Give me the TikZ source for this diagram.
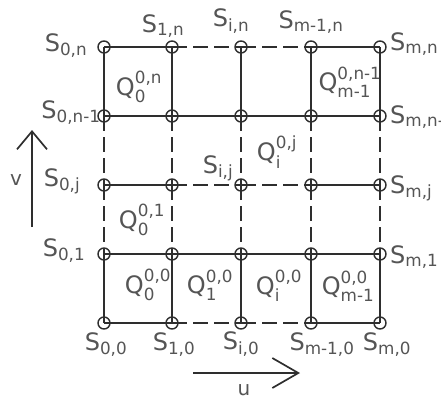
\documentclass[tikz,border=0pt]{standalone}
\usepackage{amsmath}
\usepackage{fontspec}
\setmainfont{DejaVu Sans}
\usetikzlibrary{arrows.meta}
\definecolor{ink}{HTML}{2E2E2E}
\definecolor{pencil}{HTML}{555555}
\newcommand{\Sl}[1]{$\text{S}_{\text{#1}}$}
\newcommand{\Ql}[2]{$\text{Q}^{\text{#2}}_{\text{#1}}$}
\begin{document}
\begin{tikzpicture}[x=1pt,y=-1pt,
  knot/.style={draw=ink,circle,line width=1.4pt,inner sep=0pt,minimum size=12pt},
  lbl/.style={text=pencil,font=\fontsize{24}{26}\selectfont,inner sep=0pt},
  edge/.style={draw=ink,line width=1.7pt},
  gap/.style={edge,dash pattern=on 15pt off 6pt}]
\useasboundingbox (0,0) rectangle (441,399);
% grid points, k stands for m-1 and p for n-1
\node[knot](S0n) at (104,47){};
\node[knot](S1n) at (172,47){};
\node[knot](Sin) at (241,47){};
\node[knot](Skn) at (311,47){};
\node[knot](Smn) at (380,47){};
\node[knot](S0p) at (104,116){};
\node[knot](S1p) at (172,116){};
\node[knot](Sip) at (241,116){};
\node[knot](Skp) at (311,116){};
\node[knot](Smp) at (380,116){};
\node[knot](S0j) at (104,185){};
\node[knot](S1j) at (172,185){};
\node[knot](Sij) at (241,185){};
\node[knot](Skj) at (311,185){};
\node[knot](Smj) at (380,185){};
\node[knot](S01) at (104,254){};
\node[knot](S11) at (172,254){};
\node[knot](Si1) at (241,254){};
\node[knot](Sk1) at (311,254){};
\node[knot](Sm1) at (380,254){};
\node[knot](S00) at (104,323){};
\node[knot](S10) at (172,323){};
\node[knot](Si0) at (241,323){};
\node[knot](Sk0) at (311,323){};
\node[knot](Sm0) at (380,323){};
% rows
\draw[edge] (S0n.center) -- (S1n.center);
\draw[gap] (S1n.center) -- (Sin.center);
\draw[gap] (Sin.center) -- (Skn.center);
\draw[edge] (Skn.center) -- (Smn.center);
\draw[edge] (S0p.center) -- (S1p.center) -- (Sip.center) -- (Skp.center) -- (Smp.center);
\draw[edge] (S0j.center) -- (S1j.center);
\draw[gap] (S1j.center) -- (Sij.center);
\draw[gap] (Sij.center) -- (Skj.center);
\draw[edge] (Skj.center) -- (Smj.center);
\draw[edge] (S01.center) -- (S11.center) -- (Si1.center) -- (Sk1.center) -- (Sm1.center);
\draw[edge] (S00.center) -- (S10.center);
\draw[gap] (S10.center) -- (Si0.center);
\draw[gap] (Si0.center) -- (Sk0.center);
\draw[edge] (Sk0.center) -- (Sm0.center);
% columns
\draw[edge] (S0n.center) -- (S0p.center);
\draw[gap] (S0p.center) -- (S0j.center);
\draw[gap] (S0j.center) -- (S01.center);
\draw[edge] (S01.center) -- (S00.center);
\draw[edge] (S1n.center) -- (S1p.center);
\draw[gap] (S1p.center) -- (S1j.center);
\draw[gap] (S1j.center) -- (S11.center);
\draw[edge] (S11.center) -- (S10.center);
\draw[edge] (Sin.center) -- (Sip.center);
\draw[gap] (Sip.center) -- (Sij.center);
\draw[gap] (Sij.center) -- (Si1.center);
\draw[edge] (Si1.center) -- (Si0.center);
\draw[edge] (Skn.center) -- (Skp.center);
\draw[gap] (Skp.center) -- (Skj.center);
\draw[gap] (Skj.center) -- (Sk1.center);
\draw[edge] (Sk1.center) -- (Sk0.center);
\draw[edge] (Smn.center) -- (Smp.center);
\draw[gap] (Smp.center) -- (Smj.center);
\draw[gap] (Smj.center) -- (Sm1.center);
\draw[edge] (Sm1.center) -- (Sm0.center);
% point labels
\node[lbl](lS0n) at (66,46){\Sl{0,n}};
\node[lbl](lS1n) at (163,26){\Sl{1,n}};
\node[lbl](lSin) at (231,21){\Sl{i,n}};
\node[lbl](lSkn) at (311,22){\Sl{m-1,n}};
\node[lbl,anchor=west](lSmn) at (390,44){\Sl{m,n}};
\node[lbl](lS0p) at (71,113){\Sl{0,n-1}};
\node[lbl,anchor=west](lSmp) at (390,117){\Sl{m,n-1}};
\node[lbl](lS0j) at (62,181){\Sl{0,j}};
\node[lbl](lSij) at (218,168){\Sl{i,j}};
\node[lbl,anchor=west](lSmj) at (390,188){\Sl{m,j}};
\node[lbl](lS01) at (64,251){\Sl{0,1}};
\node[lbl,anchor=west](lSm1) at (390,257){\Sl{m,1}};
\node[lbl](lS00) at (106,345){\Sl{0,0}};
\node[lbl](lS10) at (174,345){\Sl{1,0}};
\node[lbl](lSi0) at (241,344){\Sl{i,0}};
\node[lbl](lSk0) at (322,345){\Sl{m-1,0}};
\node[lbl](lSm0) at (387,345){\Sl{m,0}};
% patch labels
\node[lbl](lQ0n) at (139,87){\Ql{0}{0,n}};
\node[lbl](lQkp) at (350,82){\Ql{m-1}{0,n-1}};
\node[lbl](lQij) at (277,152){\Ql{i}{0,j}};
\node[lbl](lQ01) at (142,220){\Ql{0}{0,1}};
\node[lbl](lQ00) at (148,285){\Ql{0}{0,0}};
\node[lbl](lQ10) at (210,285){\Ql{1}{0,0}};
\node[lbl](lQi0) at (279,286){\Ql{i}{0,0}};
\node[lbl](lQk0) at (348,286){\Ql{m-1}{0,0}};
% parameter directions
\coordinate (v0) at (32,227);
\coordinate (v1) at (32,130);
\draw[edge,-{Straight Barb[length=18pt,width=30pt]}] (v0) -- (v1);
\node[lbl,font=\fontsize{20}{22}\selectfont](lv) at (16,180){v};
\coordinate (u0) at (193,373);
\coordinate (u1) at (300,373);
\draw[edge,-{Straight Barb[length=26pt,width=30pt]}] (u0) -- (u1);
\node[lbl,font=\fontsize{20}{22}\selectfont](lu) at (244,390){u};
\end{tikzpicture}
\end{document}
